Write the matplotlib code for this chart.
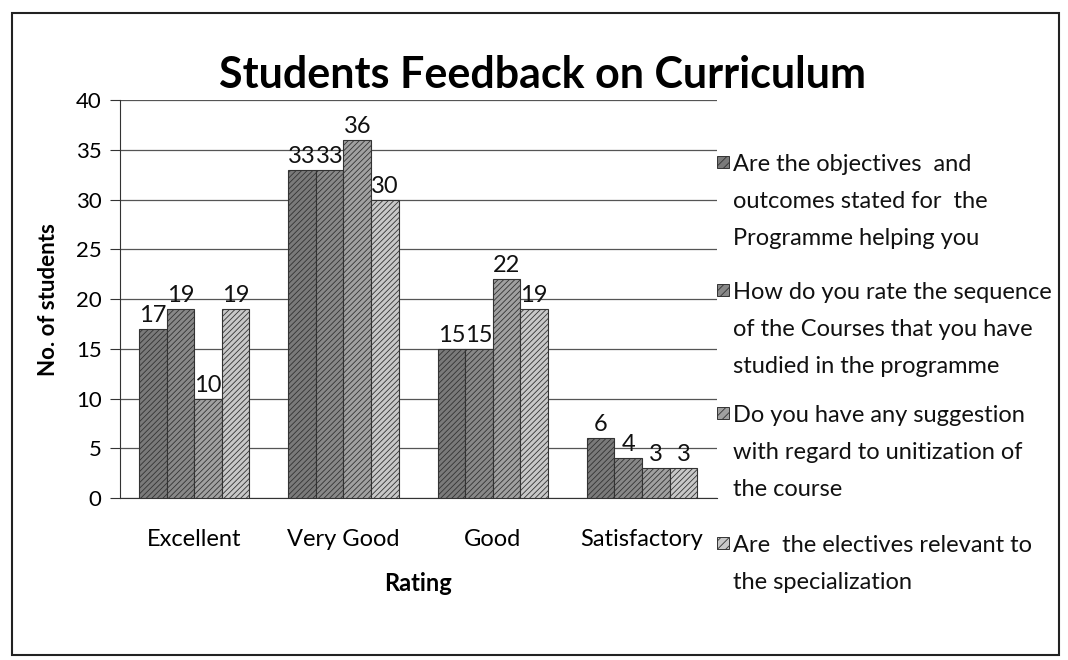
import matplotlib.pyplot as plt
import numpy as np
from matplotlib.patches import Rectangle

categories = ['Excellent', 'Very Good', 'Good', 'Satisfactory']
series_names = [
    'Are the objectives  and\noutcomes stated for  the\nProgramme helping you',
    'How do you rate the sequence\nof the Courses that you have\nstudied in the programme',
    'Do you have any suggestion\nwith regard to unitization of\nthe course',
    'Are  the electives relevant to\nthe specialization',
]
objectives = [17, 33, 15, 6]
sequence = [19, 33, 15, 4]
unitization = [10, 36, 22, 3]
electives = [19, 30, 19, 3]
series = [objectives, sequence, unitization, electives]
colors = ['#7a7a7a', '#888888', '#a0a0a0', '#c8c8c8']

plt.rcParams['font.family'] = ['Lato', 'DejaVu Sans']
plt.rcParams['hatch.color'] = '#e0e0e0'
plt.rcParams['hatch.linewidth'] = 0.6

fig = plt.figure(figsize=(10.68, 6.6), dpi=100)
ax = fig.add_axes([0.112, 0.2455, 0.559, 0.6025])

x = np.arange(len(categories))
w = 0.185
for k, vals in enumerate(series):
    pos = x + (k - 1.5) * w
    bars = ax.bar(pos, vals, w, color=colors[k], edgecolor='#333333', linewidth=0.8,
                  hatch='//////', label=series_names[k], zorder=3)
    for b, v in zip(bars, vals):
        ax.text(b.get_x() + b.get_width() / 2, v + 0.3, str(v), ha='center', va='bottom',
                fontsize=17, color='#111111', zorder=4)

ax.set_xlim(-0.5, 3.5)
ax.set_ylim(0, 40)
ax.set_yticks(range(0, 41, 5))
ax.yaxis.grid(True, color='#555555', linewidth=0.9, zorder=0)
ax.set_xticks(x)
ax.set_xticklabels(categories, fontsize=17)
ax.tick_params(axis='x', length=0, pad=22)
ax.tick_params(axis='y', labelsize=16, length=7, color='#333333', pad=6)
for s in ['top', 'right']:
    ax.spines[s].set_visible(False)
ax.spines['left'].set_color('#333333')
ax.spines['bottom'].set_color('#333333')
ax.set_ylabel('No. of students', fontsize=16, fontweight='bold', labelpad=12)
ax.set_xlabel('Rating', fontsize=17, fontweight='bold', labelpad=16)

fig.text(0.508, 0.887, 'Students Feedback on Curriculum', ha='center', va='center',
         fontsize=31, fontweight='bold')

# legend drawn by hand so the swatch sits on the first line of each entry
legend_top = [162, 290, 413, 543]
for k, name in enumerate(series_names):
    yf = 1 - legend_top[k] / 660
    fig.patches.append(Rectangle((717 / 1068, yf - 6 / 660), 12 / 1068, 12 / 660,
                                 transform=fig.transFigure, facecolor=colors[k],
                                 edgecolor='#333333', linewidth=0.7, hatch='////'))
    fig.text(733 / 1068, yf + 8 / 660, name, ha='left', va='top', fontsize=17,
             linespacing=1.94, color='#111111')

fig.patches.append(Rectangle((0.011, 0.008), 0.981, 0.972, transform=fig.transFigure,
                             fill=False, edgecolor='#222222', linewidth=1.5))

fig.savefig('out.png', dpi=100)
